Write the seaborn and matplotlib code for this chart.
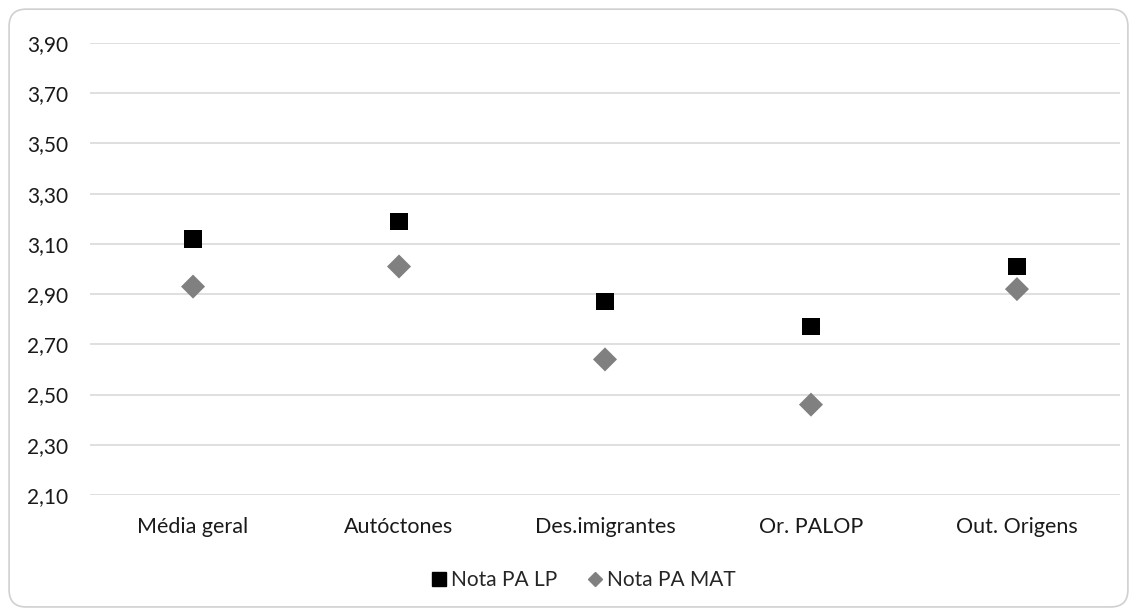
import matplotlib
matplotlib.use("Agg")
import matplotlib.pyplot as plt
from matplotlib.patches import FancyBboxPatch
from matplotlib.lines import Line2D
import seaborn as sns
import pandas as pd

categories = ["Média geral", "Autóctones", "Des.imigrantes", "Or. PALOP", "Out. Origens"]
nota_lp = [3.12, 3.19, 2.87, 2.77, 3.01]
nota_mat = [2.93, 3.01, 2.64, 2.46, 2.92]
y_ticks = [2.10, 2.30, 2.50, 2.70, 2.90, 3.10, 3.30, 3.50, 3.70, 3.90]

sns.set_theme(style="white")
plt.rcParams['font.family'] = ['Lato', 'DejaVu Sans']

df_lp = pd.DataFrame({"cat": categories, "val": nota_lp})
df_mat = pd.DataFrame({"cat": categories, "val": nota_mat})

fig = plt.figure(figsize=(11.37, 6.10), dpi=100)
ax = fig.add_axes([0.0792, 0.1885, 0.9058, 0.741])

sns.scatterplot(data=df_lp, x="cat", y="val", marker="s", s=155, color="black",
                edgecolor="none", ax=ax, zorder=3)
sns.scatterplot(data=df_mat, x="cat", y="val", marker="D", s=150, color="#808080",
                edgecolor="none", ax=ax, zorder=3)

ax.set_xlim(-0.5, 4.5)
ax.set_ylim(2.10, 3.90)
ax.set_yticks(y_ticks)
ax.set_yticklabels([f"{v:.2f}".replace(".", ",") for v in y_ticks])
ax.yaxis.grid(True, color="#d9d9d9", linewidth=1.2)
ax.xaxis.grid(False)
for sp in ax.spines.values():
    sp.set_visible(False)
ax.tick_params(axis="both", length=0, labelsize=15, colors="#1a1a1a")
ax.tick_params(axis="x", labelsize=15.5, pad=16)
ax.tick_params(axis="y", pad=16)
ax.set_xlabel("")
ax.set_ylabel("")

handles = [
    Line2D([], [], marker="s", color="black", linestyle="none", markersize=10),
    Line2D([], [], marker="D", color="#808080", linestyle="none", markersize=7),
]
fig.legend(handles, ["Nota PA LP", "Nota PA MAT"], loc="center",
           bbox_to_anchor=(0.512, 0.049), ncol=2, frameon=False, fontsize=15,
           handletextpad=0.1, columnspacing=1.3, handlelength=1.0)

border = FancyBboxPatch((0.008, 0.005), 0.984, 0.98, boxstyle="round,pad=0,rounding_size=0.015",
                        transform=fig.transFigure, facecolor="none", edgecolor="#d0d0d0",
                        linewidth=1.2, mutation_aspect=1137/610)
fig.patches.append(border)

fig.savefig("out.png", dpi=100, facecolor="white")
